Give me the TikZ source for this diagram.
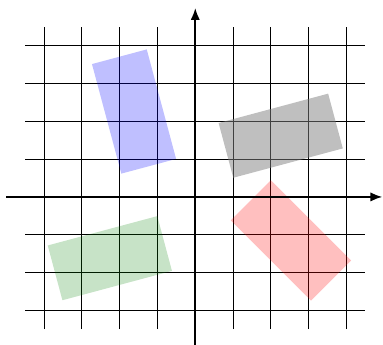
\documentclass[tikz,border=0pt]{standalone}
\usetikzlibrary{arrows.meta}
\begin{document}
\begin{tikzpicture}[x=1cm,y=1cm,
  gridline/.style={black,line width=0.75pt},
  axisline/.style={black,line width=1.4pt,-{Latex[length=9pt,width=7pt]}},
  shade/.style={opacity=0.25}]
\useasboundingbox (-5.166,-3.915) rectangle (4.966,5.21);
% grid
\foreach \y in {-3,-2,-1,1,2,3,4} \draw[gridline] (-4.5,\y) -- (4.5,\y);
\foreach \x in {-4,-3,-2,-1,1,2,3,4} \draw[gridline] (\x,-3.5) -- (\x,4.5);
% rectangles
\fill[blue,shade,rotate around={15:(-1.62,2.26)}] (-2.37,0.76) rectangle (-0.87,3.76);
\fill[gray,opacity=0.5,rotate around={15:(2.26,1.62)}] (0.76,0.87) rectangle (3.76,2.37);
\fill[red,shade,rotate around={-45:(2.53,-1.15)}] (1.03,-1.90) rectangle (4.03,-0.40);
\fill[green!50!black,opacity=0.22,rotate around={15:(-2.26,-1.62)}] (-3.76,-2.37) rectangle (-0.76,-0.87);
% axes
\coordinate (xs) at (-5,0); \coordinate (xe) at (4.95,0);
\coordinate (ys) at (0,-4); \coordinate (ye) at (0,5);
\draw[axisline] (xs) -- (xe);
\draw[axisline] (ys) -- (ye);
\end{tikzpicture}
\end{document}
